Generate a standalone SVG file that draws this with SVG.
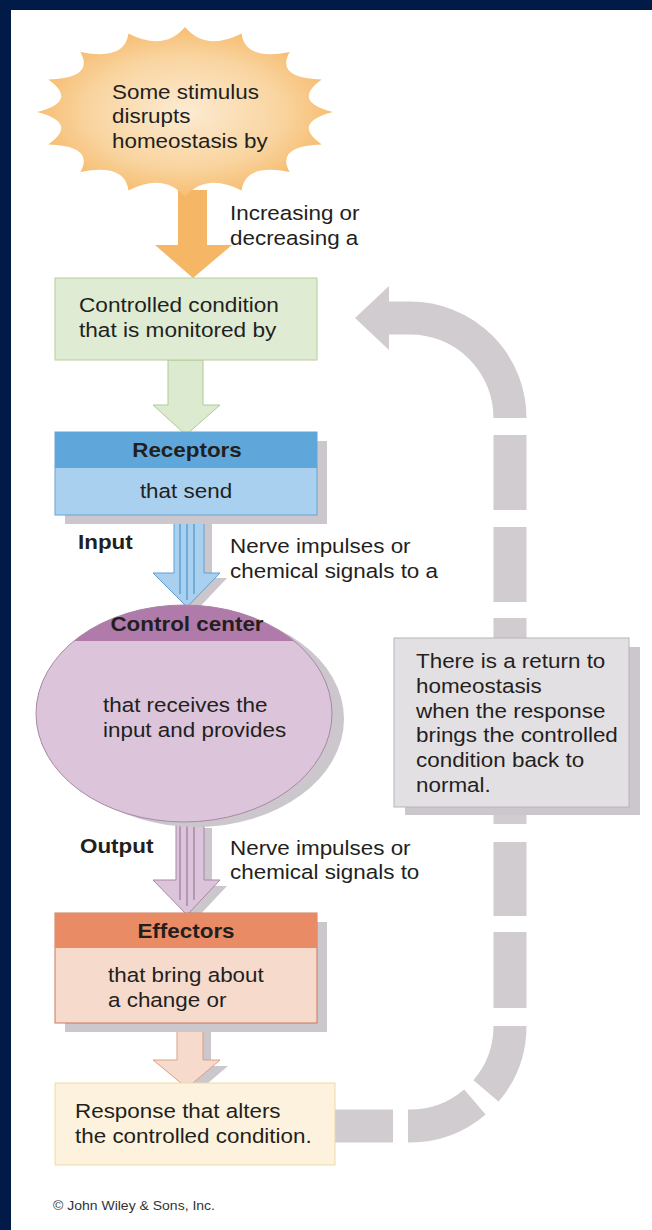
<svg xmlns="http://www.w3.org/2000/svg" width="652" height="1230" viewBox="0 0 652 1230">
<defs>
<style>
.t{font-family:"Liberation Sans",Arial,sans-serif;font-size:19.5px;fill:#231f20}
.b{font-weight:bold;text-anchor:middle}
.sh{fill:#cbc7cc}
.dash{fill:none;stroke:#d0ccd0;stroke-width:33;stroke-linecap:butt}
.ln{stroke-width:1.5}
</style>
<radialGradient id="burst" cx="0.5" cy="0.5" r="0.55">
<stop offset="0" stop-color="#fcebd3"/>
<stop offset="0.6" stop-color="#f9d49f"/>
<stop offset="1" stop-color="#f5b765"/>
</radialGradient>
<clipPath id="ccTop"><rect x="30" y="590" width="320" height="51"/></clipPath>
</defs>
<rect x="0" y="0" width="652" height="1230" fill="#ffffff"/>
<rect x="0" y="0" width="652" height="10" fill="#011a48"/>
<rect x="0" y="0" width="11" height="1230" fill="#011a48"/>

<g id="connectors">
<path class="dash" d="M335,1126 H393"/>
<path class="dash" d="M408,1126 H410 A100,100 0 0 0 474.9,1102"/>
<path class="dash" d="M486,1090.9 A100,100 0 0 0 510,1026"/>
<path class="dash" d="M510,1008 V932"/>
<path class="dash" d="M510,916 V842"/>
<path class="dash" d="M510,824 V618"/>
<path class="dash" d="M510,602 V527"/>
<path class="dash" d="M510,510 V435"/>
<path class="dash" d="M510,418 A100,100 0 0 0 410,318 H388"/>
<polygon points="389,286 355,318 389,350" fill="#d0ccd0"/>
<polygon points="178,190 207,190 207,245 232,245 193,278 155,245 178,245" fill="#f5b766"/>
<polygon points="168,360 203,360 203,405 220,405 186,435 153,405 168,405" fill="#dcead0" stroke="#aecb94" stroke-width="1"/>
<polygon class="sh" points="182,521 212,521 212,578 227,578 194,613 161,578 182,578"/>
<polygon points="174,515 204,515 204,573 220,573 187,607 153,573 174,573" fill="#a9d1ef" stroke="#5f9fd2" stroke-width="1"/>
<g stroke="#5f9fd2" class="ln">
<line x1="180" y1="515" x2="180" y2="594"/>
<line x1="187" y1="515" x2="187" y2="600"/>
<line x1="194" y1="515" x2="194" y2="594"/>
</g>
<polygon class="sh" points="184,828 212,828 212,886 227,886 195,920 161,886 184,886"/>
<polygon points="176,822 204,822 204,880 220,880 187,915 153,880 176,880" fill="#dcc4da" stroke="#a888a6" stroke-width="1"/>
<g stroke="#a888a6" class="ln">
<line x1="180" y1="822" x2="180" y2="900"/>
<line x1="187" y1="822" x2="187" y2="906"/>
<line x1="194" y1="822" x2="194" y2="900"/>
</g>
<polygon class="sh" points="185,1029 211,1029 211,1066 228,1066 195,1094 161,1066 185,1066"/>
<polygon points="177,1023 203,1023 203,1060 220,1060 187,1088 153,1060 177,1060" fill="#f6dacc" stroke="#d8a08a" stroke-width="1"/>
</g>

<g id="stimulus">
<path fill="url(#burst)" d="M333,112 Q291,101.2 321.7,79.5 Q275,78 289.7,51.9 Q245,61 241.6,33.5 Q206,51.7 185,27 Q164,51.7 128.4,33.5 Q125,61 80.3,51.9 Q95,78 48.3,79.5 Q79,101.2 37,112 Q79,122.8 48.3,144.5 Q95,146 80.3,172.1 Q125,163 128.4,190.5 Q164,172.3 185,197 Q206,172.3 241.6,190.5 Q245,163 289.7,172.1 Q275,146 321.7,144.5 Q291,122.8 333,112 Z"/>
<text class="t" transform="matrix(1.15 0 0 1 112 99)"><tspan x="0" y="0">Some stimulus</tspan><tspan x="0" y="24.5">disrupts</tspan><tspan x="0" y="49">homeostasis by</tspan></text>
</g>

<g id="label-increasing">
<text class="t" transform="matrix(1.15 0 0 1 230 220)"><tspan x="0" y="0">Increasing or</tspan><tspan x="0" y="25">decreasing a</tspan></text>
</g>

<g id="controlled-condition">
<rect x="55" y="278" width="262" height="82" fill="#dfecd3" stroke="#b3ce9a" stroke-width="1"/>
<text class="t" transform="matrix(1.16 0 0 1 79 312)"><tspan x="0" y="0">Controlled condition</tspan><tspan x="0" y="25">that is monitored by</tspan></text>
</g>

<g id="receptors">
<rect class="sh" x="65" y="441" width="262" height="83"/>
<rect x="55" y="432" width="262" height="83" fill="#a9d1ef" stroke="#6aa3cf" stroke-width="1"/>
<rect x="55" y="432" width="262" height="36" fill="#5fa7da"/>
<text class="t b" transform="matrix(1.15 0 0 1 187 457)">Receptors</text>
<text class="t" text-anchor="middle" transform="matrix(1.15 0 0 1 186 498)">that send</text>
</g>

<g id="label-input">
<text class="t" font-weight="bold" transform="matrix(1.15 0 0 1 78 549)">Input</text>
<text class="t" transform="matrix(1.15 0 0 1 230 553)"><tspan x="0" y="0">Nerve impulses or</tspan><tspan x="0" y="25">chemical signals to a</tspan></text>
</g>

<g id="control-center">
<ellipse class="sh" cx="196" cy="719" rx="148" ry="108"/>
<ellipse cx="184" cy="713.5" rx="148" ry="108.5" fill="#dcc4da"/>
<ellipse cx="184" cy="713.5" rx="148" ry="108.5" fill="#b07aab" clip-path="url(#ccTop)"/>
<ellipse cx="184" cy="713.5" rx="148" ry="108.5" fill="none" stroke="#a888a6" stroke-width="1"/>
<text class="t b" transform="matrix(1.15 0 0 1 187 631)">Control center</text>
<text class="t" transform="matrix(1.15 0 0 1 103 712)"><tspan x="0" y="0">that receives the</tspan><tspan x="0" y="25">input and provides</tspan></text>
</g>

<g id="label-output">
<text class="t" font-weight="bold" transform="matrix(1.15 0 0 1 80 853)">Output</text>
<text class="t" transform="matrix(1.15 0 0 1 230 855)"><tspan x="0" y="0">Nerve impulses or</tspan><tspan x="0" y="24.5">chemical signals to</tspan></text>
</g>

<g id="effectors">
<rect class="sh" x="65" y="922" width="262" height="110"/>
<rect x="55" y="913" width="262" height="110" fill="#f6dacc" stroke="#c97b5e" stroke-width="1"/>
<rect x="55" y="913" width="262" height="35" fill="#e98b65"/>
<text class="t b" transform="matrix(1.15 0 0 1 186 938)">Effectors</text>
<text class="t" transform="matrix(1.15 0 0 1 108 982)"><tspan x="0" y="0">that bring about</tspan><tspan x="0" y="25">a change or</tspan></text>
</g>

<g id="response">
<rect x="55" y="1083" width="280" height="82" fill="#fdf2dd" stroke="#ecdba4" stroke-width="1"/>
<text class="t" transform="matrix(1.15 0 0 1 75 1118)"><tspan x="0" y="0">Response that alters</tspan><tspan x="0" y="25">the controlled condition.</tspan></text>
</g>

<g id="return-note">
<rect class="sh" x="405" y="647" width="235" height="168"/>
<rect x="394" y="638" width="235" height="169" fill="#e3e0e4" stroke="#b8b3ba" stroke-width="1"/>
<text class="t" transform="matrix(1.15 0 0 1 416 668)"><tspan x="0" y="0">There is a return to</tspan><tspan x="0" y="24.8">homeostasis</tspan><tspan x="0" y="49.6">when the response</tspan><tspan x="0" y="74.4">brings the controlled</tspan><tspan x="0" y="99.2">condition back to</tspan><tspan x="0" y="124">normal.</tspan></text>
</g>

<g id="copyright">
<text class="t" style="font-size:12.5px;fill:#333" transform="matrix(1.12 0 0 1 53 1210)">© John Wiley &amp; Sons, Inc.</text>
</g>
</svg>
